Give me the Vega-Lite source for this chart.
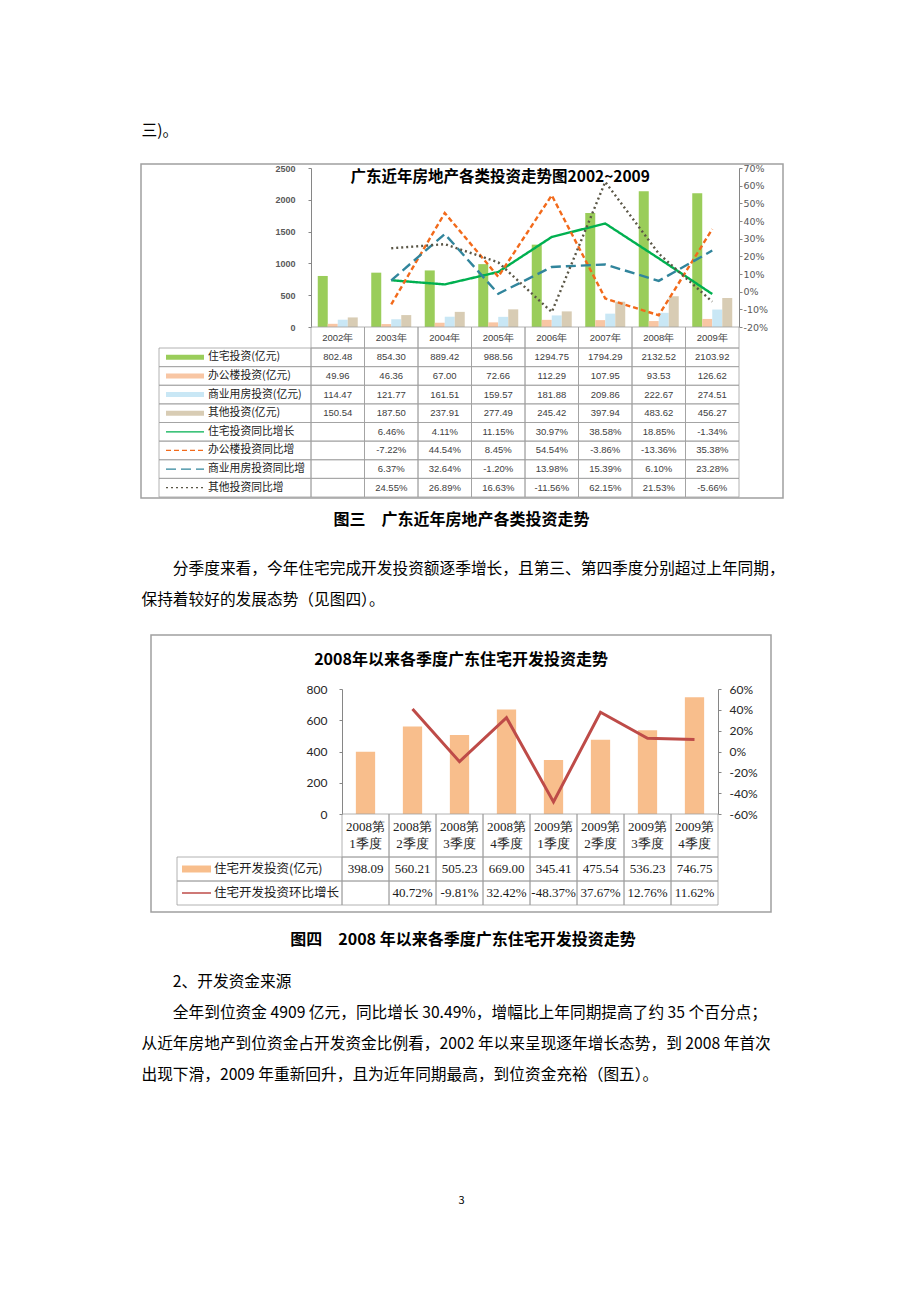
{
  "$schema": "https://vega.github.io/schema/vega-lite/v6.json",
  "padding": {"left": 140, "top": 0, "right": 0, "bottom": 0},
  "background": "white",
  "config": {
    "font": "Noto Sans CJK SC",
    "view": {"stroke": null},
    "locale": {"number": {"decimal": ".", "thousands": ",", "grouping": [3], "currency": ["", ""], "minus": "-"}},
    "axis": {"grid": false, "title": null, "domainColor": "#868686", "tickColor": "#868686"}
  },
  "datasets": {
    "inv1": [
      {"year": "2002年", "series": "住宅投资(亿元)", "value": 802.48},
      {"year": "2003年", "series": "住宅投资(亿元)", "value": 854.30},
      {"year": "2004年", "series": "住宅投资(亿元)", "value": 889.42},
      {"year": "2005年", "series": "住宅投资(亿元)", "value": 988.56},
      {"year": "2006年", "series": "住宅投资(亿元)", "value": 1294.75},
      {"year": "2007年", "series": "住宅投资(亿元)", "value": 1794.29},
      {"year": "2008年", "series": "住宅投资(亿元)", "value": 2132.52},
      {"year": "2009年", "series": "住宅投资(亿元)", "value": 2103.92},
      {"year": "2002年", "series": "办公楼投资(亿元)", "value": 49.96},
      {"year": "2003年", "series": "办公楼投资(亿元)", "value": 46.36},
      {"year": "2004年", "series": "办公楼投资(亿元)", "value": 67.00},
      {"year": "2005年", "series": "办公楼投资(亿元)", "value": 72.66},
      {"year": "2006年", "series": "办公楼投资(亿元)", "value": 112.29},
      {"year": "2007年", "series": "办公楼投资(亿元)", "value": 107.95},
      {"year": "2008年", "series": "办公楼投资(亿元)", "value": 93.53},
      {"year": "2009年", "series": "办公楼投资(亿元)", "value": 126.62},
      {"year": "2002年", "series": "商业用房投资(亿元)", "value": 114.47},
      {"year": "2003年", "series": "商业用房投资(亿元)", "value": 121.77},
      {"year": "2004年", "series": "商业用房投资(亿元)", "value": 161.51},
      {"year": "2005年", "series": "商业用房投资(亿元)", "value": 159.57},
      {"year": "2006年", "series": "商业用房投资(亿元)", "value": 181.88},
      {"year": "2007年", "series": "商业用房投资(亿元)", "value": 209.86},
      {"year": "2008年", "series": "商业用房投资(亿元)", "value": 222.67},
      {"year": "2009年", "series": "商业用房投资(亿元)", "value": 274.51},
      {"year": "2002年", "series": "其他投资(亿元)", "value": 150.54},
      {"year": "2003年", "series": "其他投资(亿元)", "value": 187.50},
      {"year": "2004年", "series": "其他投资(亿元)", "value": 237.91},
      {"year": "2005年", "series": "其他投资(亿元)", "value": 277.49},
      {"year": "2006年", "series": "其他投资(亿元)", "value": 245.42},
      {"year": "2007年", "series": "其他投资(亿元)", "value": 397.94},
      {"year": "2008年", "series": "其他投资(亿元)", "value": 483.62},
      {"year": "2009年", "series": "其他投资(亿元)", "value": 456.27}
    ],
    "gr1": [
      {"year": "2002年", "series": "住宅投资同比增长", "pct": null},
      {"year": "2003年", "series": "住宅投资同比增长", "pct": 0.0646},
      {"year": "2004年", "series": "住宅投资同比增长", "pct": 0.0411},
      {"year": "2005年", "series": "住宅投资同比增长", "pct": 0.1115},
      {"year": "2006年", "series": "住宅投资同比增长", "pct": 0.3097},
      {"year": "2007年", "series": "住宅投资同比增长", "pct": 0.3858},
      {"year": "2008年", "series": "住宅投资同比增长", "pct": 0.1885},
      {"year": "2009年", "series": "住宅投资同比增长", "pct": -0.0134},
      {"year": "2002年", "series": "办公楼投资同比增", "pct": null},
      {"year": "2003年", "series": "办公楼投资同比增", "pct": -0.0722},
      {"year": "2004年", "series": "办公楼投资同比增", "pct": 0.4454},
      {"year": "2005年", "series": "办公楼投资同比增", "pct": 0.0845},
      {"year": "2006年", "series": "办公楼投资同比增", "pct": 0.5454},
      {"year": "2007年", "series": "办公楼投资同比增", "pct": -0.0386},
      {"year": "2008年", "series": "办公楼投资同比增", "pct": -0.1336},
      {"year": "2009年", "series": "办公楼投资同比增", "pct": 0.3538},
      {"year": "2002年", "series": "商业用房投资同比增", "pct": null},
      {"year": "2003年", "series": "商业用房投资同比增", "pct": 0.0637},
      {"year": "2004年", "series": "商业用房投资同比增", "pct": 0.3264},
      {"year": "2005年", "series": "商业用房投资同比增", "pct": -0.0120},
      {"year": "2006年", "series": "商业用房投资同比增", "pct": 0.1398},
      {"year": "2007年", "series": "商业用房投资同比增", "pct": 0.1539},
      {"year": "2008年", "series": "商业用房投资同比增", "pct": 0.0610},
      {"year": "2009年", "series": "商业用房投资同比增", "pct": 0.2328},
      {"year": "2002年", "series": "其他投资同比增", "pct": null},
      {"year": "2003年", "series": "其他投资同比增", "pct": 0.2455},
      {"year": "2004年", "series": "其他投资同比增", "pct": 0.2689},
      {"year": "2005年", "series": "其他投资同比增", "pct": 0.1663},
      {"year": "2006年", "series": "其他投资同比增", "pct": -0.1156},
      {"year": "2007年", "series": "其他投资同比增", "pct": 0.6215},
      {"year": "2008年", "series": "其他投资同比增", "pct": 0.2153},
      {"year": "2009年", "series": "其他投资同比增", "pct": -0.0566}
    ],
    "leg1": [
      {"series": "住宅投资(亿元)", "kind": "bar"},
      {"series": "办公楼投资(亿元)", "kind": "bar"},
      {"series": "商业用房投资(亿元)", "kind": "bar"},
      {"series": "其他投资(亿元)", "kind": "bar"},
      {"series": "住宅投资同比增长", "kind": "line"},
      {"series": "办公楼投资同比增", "kind": "line"},
      {"series": "商业用房投资同比增", "kind": "line"},
      {"series": "其他投资同比增", "kind": "line"}
    ],
    "q": [
      {"quarter": "2008第\n1季度", "inv": 398.09, "qoq": null},
      {"quarter": "2008第\n2季度", "inv": 560.21, "qoq": 0.4072},
      {"quarter": "2008第\n3季度", "inv": 505.23, "qoq": -0.0981},
      {"quarter": "2008第\n4季度", "inv": 669.00, "qoq": 0.3242},
      {"quarter": "2009第\n1季度", "inv": 345.41, "qoq": -0.4837},
      {"quarter": "2009第\n2季度", "inv": 475.54, "qoq": 0.3767},
      {"quarter": "2009第\n3季度", "inv": 536.23, "qoq": 0.1276},
      {"quarter": "2009第\n4季度", "inv": 746.75, "qoq": 0.1162}
    ],
    "leg2": [
      {"row": "住宅开发投资(亿元)", "kind": "bar"},
      {"row": "住宅开发投资环比增长", "kind": "line"}
    ]
  },
  "vconcat": [
    {"width": 1, "height": 115, "data": {"values": []}, "mark": "point"},
    {"width": 1, "height": 31, "data": {"values": [{"text": "三)。"}]},
     "mark": {"type": "text", "align": "left", "baseline": "middle", "fontSize": 15.7, "color": "#000"},
     "encoding": {"text": {"field": "text"}}},
    {"width": 1, "height": 16, "data": {"values": []}, "mark": "point"},
    {
      "width": 642, "height": 334,
      "view": {"stroke": "#A0A0A0", "strokeWidth": 1.5},
      "layer": [
        {"data": {"values": [{"t": "广东近年房地产各类投资走势图2002~2009"}]},
         "mark": {"type": "text", "baseline": "middle", "dx": 2, "fontSize": 15.5, "fontWeight": "bold", "color": "#000"},
         "encoding": {
           "x": {"datum": "2005年", "type": "nominal", "axis": null, "scale": {"domain": ["2002年", "2003年", "2004年", "2005年", "2006年", "2007年", "2008年", "2009年"], "paddingInner": 0, "paddingOuter": 0, "range": [170, 598]}},
           "y": {"datum": "title", "type": "nominal", "axis": null, "scale": {"domain": ["title"], "paddingInner": 0, "paddingOuter": 0, "range": [4, 22]}},
           "text": {"field": "t"}}},
        {"data": {"name": "inv1"},
         "mark": {"type": "bar"},
         "encoding": {
           "x": {"field": "year", "type": "nominal", "axis": null, "scale": {"domain": ["2002年", "2003年", "2004年", "2005年", "2006年", "2007年", "2008年", "2009年"], "paddingInner": 0, "paddingOuter": 0, "range": [170, 598]}},
           "xOffset": {"field": "series", "type": "nominal", "scale": {"domain": ["住宅投资(亿元)", "办公楼投资(亿元)", "商业用房投资(亿元)", "其他投资(亿元)"], "paddingInner": 0, "paddingOuter": 0.675}},
           "y": {"field": "value", "type": "quantitative", "scale": {"domain": [0, 2500], "nice": false, "range": [163, 4]},
                 "axis": {"orient": "left", "offset": -170, "format": "d", "values": [0, 500, 1000, 1500, 2000, 2500], "tickSize": 3, "labelPadding": 13, "labelFont": "Liberation Sans", "labelFontSize": 9, "labelFontWeight": "bold", "labelColor": "#595959"}},
           "color": {"field": "series", "type": "nominal", "legend": null,
                     "scale": {"domain": ["住宅投资(亿元)", "办公楼投资(亿元)", "商业用房投资(亿元)", "其他投资(亿元)", "住宅投资同比增长", "办公楼投资同比增", "商业用房投资同比增", "其他投资同比增"],
                               "range": ["#9ACD5A", "#F8C6A4", "#C9E7F5", "#D8CCB4", "#00B050", "#F26A1B", "#31859C", "#5A5646"]}}}},
        {"data": {"name": "gr1"},
         "mark": {"type": "line", "strokeWidth": 2.4},
         "encoding": {
           "x": {"field": "year", "type": "nominal", "axis": null, "scale": {"domain": ["2002年", "2003年", "2004年", "2005年", "2006年", "2007年", "2008年", "2009年"], "paddingInner": 0, "paddingOuter": 0, "range": [170, 598]}},
           "y": {"field": "pct", "type": "quantitative", "scale": {"domain": [-0.2, 0.7], "nice": false, "zero": false, "range": [163, 4]},
                 "axis": {"orient": "right", "offset": -44, "format": ".0%", "values": [-0.2, -0.1, 0, 0.1, 0.2, 0.3, 0.4, 0.5, 0.6, 0.7], "tickSize": 3, "labelPadding": 1, "labelFont": "DejaVu Sans", "labelFontSize": 9.5, "labelColor": "#595959"}},
           "color": {"field": "series", "type": "nominal", "legend": null},
           "strokeDash": {"field": "series", "type": "nominal", "legend": null,
                          "scale": {"domain": ["住宅投资同比增长", "办公楼投资同比增", "商业用房投资同比增", "其他投资同比增"], "range": [[1, 0], [5, 3], [10, 5], [2, 3]]}}}},
        {"data": {"name": "inv1"},
         "transform": [{"filter": "datum.series === '住宅投资(亿元)'"}],
         "mark": {"type": "rect", "filled": false, "stroke": "#A0A0A0", "strokeWidth": 0.8},
         "encoding": {
           "x": {"field": "year", "type": "nominal", "axis": null, "scale": {"domain": ["2002年", "2003年", "2004年", "2005年", "2006年", "2007年", "2008年", "2009年"], "paddingInner": 0, "paddingOuter": 0, "range": [170, 598]}},
           "y": {"datum": "hdr", "type": "nominal", "axis": null, "scale": {"domain": ["hdr"], "paddingInner": 0, "paddingOuter": 0, "range": [163, 184]}}}},
        {"data": {"name": "inv1"},
         "transform": [{"filter": "datum.series === '住宅投资(亿元)'"}],
         "mark": {"type": "text", "font": "Liberation Sans", "fontSize": 9.5, "color": "#404040"},
         "encoding": {
           "x": {"field": "year", "type": "nominal", "axis": null, "scale": {"domain": ["2002年", "2003年", "2004年", "2005年", "2006年", "2007年", "2008年", "2009年"], "paddingInner": 0, "paddingOuter": 0, "range": [170, 598]}},
           "y": {"datum": "hdr", "type": "nominal", "axis": null, "scale": {"domain": ["hdr"], "paddingInner": 0, "paddingOuter": 0, "range": [163, 184]}},
           "text": {"field": "year"}}},
        {"data": {"name": "inv1"},
         "mark": {"type": "rect", "filled": false, "stroke": "#A0A0A0", "strokeWidth": 0.8},
         "encoding": {
           "x": {"field": "year", "type": "nominal", "axis": null, "scale": {"domain": ["2002年", "2003年", "2004年", "2005年", "2006年", "2007年", "2008年", "2009年"], "paddingInner": 0, "paddingOuter": 0, "range": [170, 598]}},
           "y": {"field": "series", "type": "nominal", "axis": null, "scale": {"domain": ["住宅投资(亿元)", "办公楼投资(亿元)", "商业用房投资(亿元)", "其他投资(亿元)", "住宅投资同比增长", "办公楼投资同比增", "商业用房投资同比增", "其他投资同比增"], "paddingInner": 0, "paddingOuter": 0, "range": [184, 333]}}}},
        {"data": {"name": "gr1"},
         "mark": {"type": "rect", "filled": false, "stroke": "#A0A0A0", "strokeWidth": 0.8},
         "encoding": {
           "x": {"field": "year", "type": "nominal", "axis": null, "scale": {"domain": ["2002年", "2003年", "2004年", "2005年", "2006年", "2007年", "2008年", "2009年"], "paddingInner": 0, "paddingOuter": 0, "range": [170, 598]}},
           "y": {"field": "series", "type": "nominal", "axis": null, "scale": {"domain": ["住宅投资(亿元)", "办公楼投资(亿元)", "商业用房投资(亿元)", "其他投资(亿元)", "住宅投资同比增长", "办公楼投资同比增", "商业用房投资同比增", "其他投资同比增"], "paddingInner": 0, "paddingOuter": 0, "range": [184, 333]}}}},
        {"data": {"name": "inv1"},
         "mark": {"type": "text", "font": "Liberation Sans", "fontSize": 9.5, "color": "#404040"},
         "encoding": {
           "x": {"field": "year", "type": "nominal", "axis": null, "scale": {"domain": ["2002年", "2003年", "2004年", "2005年", "2006年", "2007年", "2008年", "2009年"], "paddingInner": 0, "paddingOuter": 0, "range": [170, 598]}},
           "y": {"field": "series", "type": "nominal", "axis": null, "scale": {"domain": ["住宅投资(亿元)", "办公楼投资(亿元)", "商业用房投资(亿元)", "其他投资(亿元)", "住宅投资同比增长", "办公楼投资同比增", "商业用房投资同比增", "其他投资同比增"], "paddingInner": 0, "paddingOuter": 0, "range": [184, 333]}},
           "text": {"field": "value", "type": "quantitative", "format": ".2f"}}},
        {"data": {"name": "gr1"},
         "transform": [{"filter": "datum.pct != null"}],
         "mark": {"type": "text", "font": "Liberation Sans", "fontSize": 9.5, "color": "#404040"},
         "encoding": {
           "x": {"field": "year", "type": "nominal", "axis": null, "scale": {"domain": ["2002年", "2003年", "2004年", "2005年", "2006年", "2007年", "2008年", "2009年"], "paddingInner": 0, "paddingOuter": 0, "range": [170, 598]}},
           "y": {"field": "series", "type": "nominal", "axis": null, "scale": {"domain": ["住宅投资(亿元)", "办公楼投资(亿元)", "商业用房投资(亿元)", "其他投资(亿元)", "住宅投资同比增长", "办公楼投资同比增", "商业用房投资同比增", "其他投资同比增"], "paddingInner": 0, "paddingOuter": 0, "range": [184, 333]}},
           "text": {"field": "pct", "type": "quantitative", "format": ".2%"}}},
        {"data": {"name": "leg1"},
         "mark": {"type": "rect", "filled": false, "stroke": "#A0A0A0", "strokeWidth": 0.8},
         "encoding": {
           "x": {"datum": "legend", "type": "nominal", "axis": null, "scale": {"domain": ["legend"], "paddingInner": 0, "paddingOuter": 0, "range": [18, 170]}},
           "y": {"field": "series", "type": "nominal", "axis": null, "scale": {"domain": ["住宅投资(亿元)", "办公楼投资(亿元)", "商业用房投资(亿元)", "其他投资(亿元)", "住宅投资同比增长", "办公楼投资同比增", "商业用房投资同比增", "其他投资同比增"], "paddingInner": 0, "paddingOuter": 0, "range": [184, 333]}}}},
        {"data": {"name": "leg1"},
         "transform": [{"filter": "datum.kind === 'bar'"}],
         "mark": {"type": "rule", "strokeWidth": 5},
         "encoding": {
           "x": {"datum": "s", "type": "nominal", "axis": null, "scale": {"type": "point", "domain": ["s", "e"], "padding": 0, "range": [25, 63]}},
           "x2": {"datum": "e"},
           "y": {"field": "series", "type": "nominal", "axis": null, "scale": {"domain": ["住宅投资(亿元)", "办公楼投资(亿元)", "商业用房投资(亿元)", "其他投资(亿元)", "住宅投资同比增长", "办公楼投资同比增", "商业用房投资同比增", "其他投资同比增"], "paddingInner": 0, "paddingOuter": 0, "range": [184, 333]}},
           "color": {"field": "series", "type": "nominal", "legend": null}}},
        {"data": {"name": "leg1"},
         "transform": [{"filter": "datum.kind === 'line'"}],
         "mark": {"type": "rule", "strokeWidth": 1.3},
         "encoding": {
           "x": {"datum": "s", "type": "nominal", "axis": null, "scale": {"type": "point", "domain": ["s", "e"], "padding": 0, "range": [25, 63]}},
           "x2": {"datum": "e"},
           "y": {"field": "series", "type": "nominal", "axis": null, "scale": {"domain": ["住宅投资(亿元)", "办公楼投资(亿元)", "商业用房投资(亿元)", "其他投资(亿元)", "住宅投资同比增长", "办公楼投资同比增", "商业用房投资同比增", "其他投资同比增"], "paddingInner": 0, "paddingOuter": 0, "range": [184, 333]}},
           "color": {"field": "series", "type": "nominal", "legend": null},
           "strokeDash": {"field": "series", "type": "nominal", "legend": null}}},
        {"data": {"name": "leg1"},
         "mark": {"type": "text", "align": "left", "dx": 4, "fontSize": 10.8, "color": "#222"},
         "encoding": {
           "x": {"datum": "e", "type": "nominal", "axis": null, "scale": {"type": "point", "domain": ["s", "e"], "padding": 0, "range": [25, 63]}},
           "y": {"field": "series", "type": "nominal", "axis": null, "scale": {"domain": ["住宅投资(亿元)", "办公楼投资(亿元)", "商业用房投资(亿元)", "其他投资(亿元)", "住宅投资同比增长", "办公楼投资同比增", "商业用房投资同比增", "其他投资同比增"], "paddingInner": 0, "paddingOuter": 0, "range": [184, 333]}},
           "text": {"field": "series"}}}
      ],
      "resolve": {"scale": {"x": "independent", "y": "independent"}, "axis": {"x": "independent", "y": "independent"}}
    },
    {"width": 1, "height": 5, "data": {"values": []}, "mark": "point"},
    {"width": 641, "height": 31, "data": {"values": [{"text": "图三　广东近年房地产各类投资走势"}]},
     "mark": {"type": "text", "baseline": "middle", "fontSize": 16, "fontWeight": "bold", "color": "#000"},
     "encoding": {"text": {"field": "text"}}},
    {"width": 1, "height": 18, "data": {"values": []}, "mark": "point"},
    {"width": 1, "height": 62,
     "data": {"values": [
       {"line": 1, "text": "\u200b　　分季度来看，今年住宅完成开发投资额逐季增长，且第三、第四季度分别超过上年同期，"},
       {"line": 2, "text": "保持着较好的发展态势（见图四）。"}
     ]},
     "mark": {"type": "text", "align": "left", "baseline": "middle", "fontSize": 15.7, "color": "#000"},
     "encoding": {"y": {"field": "line", "type": "ordinal", "axis": null, "scale": {"paddingInner": 0, "paddingOuter": 0}}, "text": {"field": "text"}}},
    {"width": 1, "height": 19, "data": {"values": []}, "mark": "point"},
    {
      "hconcat": [
        {"width": 10, "height": 1, "data": {"values": []}, "mark": "point"},
        {
          "width": 620, "height": 277,
          "view": {"stroke": "#A0A0A0", "strokeWidth": 1.5},
          "layer": [
            {"data": {"values": [{"t": "2008年以来各季度广东住宅开发投资走势"}]},
             "mark": {"type": "text", "baseline": "middle", "fontSize": 16, "fontWeight": "bold", "color": "#000"},
             "encoding": {
               "y": {"datum": "title", "type": "nominal", "axis": null, "scale": {"domain": ["title"], "paddingInner": 0, "paddingOuter": 0, "range": [12, 38]}},
               "text": {"field": "t"}}},
            {"data": {"name": "q"},
             "mark": {"type": "bar", "color": "#F8BE8C", "width": {"band": 0.41}},
             "encoding": {
               "x": {"field": "quarter", "type": "nominal", "axis": null, "scale": {"domain": ["2008第\n1季度", "2008第\n2季度", "2008第\n3季度", "2008第\n4季度", "2009第\n1季度", "2009第\n2季度", "2009第\n3季度", "2009第\n4季度"], "paddingInner": 0, "paddingOuter": 0, "range": [191, 567]}},
               "y": {"field": "inv", "type": "quantitative", "scale": {"domain": [0, 800], "nice": false, "range": [179, 54]},
                     "axis": {"orient": "left", "offset": -191, "format": "d", "values": [0, 200, 400, 600, 800], "tickSize": 3, "labelPadding": 12, "labelFont": "Lato", "labelFontSize": 12, "labelColor": "#262626"}}}},
            {"data": {"name": "q"},
             "mark": {"type": "line", "color": "#BE4B48", "strokeWidth": 3},
             "encoding": {
               "x": {"field": "quarter", "type": "nominal", "axis": null, "scale": {"domain": ["2008第\n1季度", "2008第\n2季度", "2008第\n3季度", "2008第\n4季度", "2009第\n1季度", "2009第\n2季度", "2009第\n3季度", "2009第\n4季度"], "paddingInner": 0, "paddingOuter": 0, "range": [191, 567]}},
               "y": {"field": "qoq", "type": "quantitative", "scale": {"domain": [-0.6, 0.6], "nice": false, "zero": false, "range": [179, 54]},
                     "axis": {"orient": "right", "offset": -53, "format": ".0%", "values": [-0.6, -0.4, -0.2, 0, 0.2, 0.4, 0.6], "tickSize": 3, "labelPadding": 8, "labelFont": "Lato", "labelFontSize": 12, "labelColor": "#262626"}}}},
            {"data": {"name": "q"},
             "mark": {"type": "rect", "filled": false, "stroke": "#A0A0A0", "strokeWidth": 0.8},
             "encoding": {
               "x": {"field": "quarter", "type": "nominal", "axis": null, "scale": {"domain": ["2008第\n1季度", "2008第\n2季度", "2008第\n3季度", "2008第\n4季度", "2009第\n1季度", "2009第\n2季度", "2009第\n3季度", "2009第\n4季度"], "paddingInner": 0, "paddingOuter": 0, "range": [191, 567]}},
               "y": {"datum": "hdr", "type": "nominal", "axis": null, "scale": {"domain": ["hdr"], "paddingInner": 0, "paddingOuter": 0, "range": [179, 222]}}}},
            {"data": {"name": "q"},
             "mark": {"type": "text", "lineBreak": "\n", "lineHeight": 16.7, "baseline": "middle", "dy": -8.3, "font": "Liberation Serif", "fontSize": 13, "color": "#222"},
             "encoding": {
               "x": {"field": "quarter", "type": "nominal", "axis": null, "scale": {"domain": ["2008第\n1季度", "2008第\n2季度", "2008第\n3季度", "2008第\n4季度", "2009第\n1季度", "2009第\n2季度", "2009第\n3季度", "2009第\n4季度"], "paddingInner": 0, "paddingOuter": 0, "range": [191, 567]}},
               "y": {"datum": "hdr", "type": "nominal", "axis": null, "scale": {"domain": ["hdr"], "paddingInner": 0, "paddingOuter": 0, "range": [179, 222]}},
               "text": {"field": "quarter"}}},
            {"data": {"name": "q"},
             "mark": {"type": "rect", "filled": false, "stroke": "#A0A0A0", "strokeWidth": 0.8},
             "encoding": {
               "x": {"field": "quarter", "type": "nominal", "axis": null, "scale": {"domain": ["2008第\n1季度", "2008第\n2季度", "2008第\n3季度", "2008第\n4季度", "2009第\n1季度", "2009第\n2季度", "2009第\n3季度", "2009第\n4季度"], "paddingInner": 0, "paddingOuter": 0, "range": [191, 567]}},
               "y": {"datum": "住宅开发投资(亿元)", "type": "nominal", "axis": null, "scale": {"domain": ["住宅开发投资(亿元)", "住宅开发投资环比增长"], "paddingInner": 0, "paddingOuter": 0, "range": [222, 270]}}}},
            {"data": {"name": "q"},
             "mark": {"type": "rect", "filled": false, "stroke": "#A0A0A0", "strokeWidth": 0.8},
             "encoding": {
               "x": {"field": "quarter", "type": "nominal", "axis": null, "scale": {"domain": ["2008第\n1季度", "2008第\n2季度", "2008第\n3季度", "2008第\n4季度", "2009第\n1季度", "2009第\n2季度", "2009第\n3季度", "2009第\n4季度"], "paddingInner": 0, "paddingOuter": 0, "range": [191, 567]}},
               "y": {"datum": "住宅开发投资环比增长", "type": "nominal", "axis": null, "scale": {"domain": ["住宅开发投资(亿元)", "住宅开发投资环比增长"], "paddingInner": 0, "paddingOuter": 0, "range": [222, 270]}}}},
            {"data": {"name": "q"},
             "mark": {"type": "text", "font": "Liberation Serif", "fontSize": 13, "color": "#1a1a1a"},
             "encoding": {
               "x": {"field": "quarter", "type": "nominal", "axis": null, "scale": {"domain": ["2008第\n1季度", "2008第\n2季度", "2008第\n3季度", "2008第\n4季度", "2009第\n1季度", "2009第\n2季度", "2009第\n3季度", "2009第\n4季度"], "paddingInner": 0, "paddingOuter": 0, "range": [191, 567]}},
               "y": {"datum": "住宅开发投资(亿元)", "type": "nominal", "axis": null, "scale": {"domain": ["住宅开发投资(亿元)", "住宅开发投资环比增长"], "paddingInner": 0, "paddingOuter": 0, "range": [222, 270]}},
               "text": {"field": "inv", "type": "quantitative", "format": ".2f"}}},
            {"data": {"name": "q"},
             "transform": [{"filter": "datum.qoq != null"}],
             "mark": {"type": "text", "font": "Liberation Serif", "fontSize": 13, "color": "#1a1a1a"},
             "encoding": {
               "x": {"field": "quarter", "type": "nominal", "axis": null, "scale": {"domain": ["2008第\n1季度", "2008第\n2季度", "2008第\n3季度", "2008第\n4季度", "2009第\n1季度", "2009第\n2季度", "2009第\n3季度", "2009第\n4季度"], "paddingInner": 0, "paddingOuter": 0, "range": [191, 567]}},
               "y": {"datum": "住宅开发投资环比增长", "type": "nominal", "axis": null, "scale": {"domain": ["住宅开发投资(亿元)", "住宅开发投资环比增长"], "paddingInner": 0, "paddingOuter": 0, "range": [222, 270]}},
               "text": {"field": "qoq", "type": "quantitative", "format": ".2%"}}},
            {"data": {"name": "leg2"},
             "mark": {"type": "rect", "filled": false, "stroke": "#A0A0A0", "strokeWidth": 0.8},
             "encoding": {
               "x": {"datum": "legend", "type": "nominal", "axis": null, "scale": {"domain": ["legend"], "paddingInner": 0, "paddingOuter": 0, "range": [26, 191]}},
               "y": {"field": "row", "type": "nominal", "axis": null, "scale": {"domain": ["住宅开发投资(亿元)", "住宅开发投资环比增长"], "paddingInner": 0, "paddingOuter": 0, "range": [222, 270]}}}},
            {"data": {"name": "leg2"},
             "transform": [{"filter": "datum.kind === 'bar'"}],
             "mark": {"type": "rule", "strokeWidth": 7, "color": "#F8BE8C"},
             "encoding": {
               "x": {"datum": "s", "type": "nominal", "axis": null, "scale": {"type": "point", "domain": ["s", "e"], "padding": 0, "range": [31, 60]}},
               "x2": {"datum": "e"},
               "y": {"field": "row", "type": "nominal", "axis": null, "scale": {"domain": ["住宅开发投资(亿元)", "住宅开发投资环比增长"], "paddingInner": 0, "paddingOuter": 0, "range": [222, 270]}}}},
            {"data": {"name": "leg2"},
             "transform": [{"filter": "datum.kind === 'line'"}],
             "mark": {"type": "rule", "strokeWidth": 1.5, "color": "#BE4B48"},
             "encoding": {
               "x": {"datum": "s", "type": "nominal", "axis": null, "scale": {"type": "point", "domain": ["s", "e"], "padding": 0, "range": [31, 60]}},
               "x2": {"datum": "e"},
               "y": {"field": "row", "type": "nominal", "axis": null, "scale": {"domain": ["住宅开发投资(亿元)", "住宅开发投资环比增长"], "paddingInner": 0, "paddingOuter": 0, "range": [222, 270]}}}},
            {"data": {"name": "leg2"},
             "mark": {"type": "text", "align": "left", "dx": 3, "fontSize": 12.5, "color": "#222"},
             "encoding": {
               "x": {"datum": "e", "type": "nominal", "axis": null, "scale": {"type": "point", "domain": ["s", "e"], "padding": 0, "range": [31, 60]}},
               "y": {"field": "row", "type": "nominal", "axis": null, "scale": {"domain": ["住宅开发投资(亿元)", "住宅开发投资环比增长"], "paddingInner": 0, "paddingOuter": 0, "range": [222, 270]}},
               "text": {"field": "row"}}}
          ],
          "resolve": {"scale": {"x": "independent", "y": "independent"}, "axis": {"x": "independent", "y": "independent"}}
        }
      ],
      "spacing": 0, "bounds": "flush"
    },
    {"width": 1, "height": 11, "data": {"values": []}, "mark": "point"},
    {"width": 644, "height": 31, "data": {"values": [{"text": "图四　2008 年以来各季度广东住宅开发投资走势"}]},
     "mark": {"type": "text", "baseline": "middle", "fontSize": 16, "fontWeight": "bold", "color": "#000"},
     "encoding": {"text": {"field": "text"}}},
    {"width": 1, "height": 11, "data": {"values": []}, "mark": "point"},
    {"width": 1, "height": 125,
     "data": {"values": [
       {"line": 1, "text": "\u200b　　2、开发资金来源"},
       {"line": 2, "text": "\u200b　　全年到位资金 4909 亿元，同比增长 30.49%，增幅比上年同期提高了约 35 个百分点；"},
       {"line": 3, "text": "从近年房地产到位资金占开发资金比例看，2002 年以来呈现逐年增长态势，到 2008 年首次"},
       {"line": 4, "text": "出现下滑，2009 年重新回升，且为近年同期最高，到位资金充裕（图五）。"}
     ]},
     "mark": {"type": "text", "align": "left", "baseline": "middle", "fontSize": 15.7, "color": "#000"},
     "encoding": {"y": {"field": "line", "type": "ordinal", "axis": null, "scale": {"paddingInner": 0, "paddingOuter": 0}}, "text": {"field": "text"}}},
    {"width": 1, "height": 95, "data": {"values": []}, "mark": "point"},
    {"width": 641, "height": 30, "data": {"values": [{"text": "3"}]},
     "mark": {"type": "text", "baseline": "middle", "fontSize": 11, "color": "#000"},
     "encoding": {"text": {"field": "text"}}},
    {"width": 1, "height": 87, "data": {"values": []}, "mark": "point"}
  ],
  "spacing": 0,
  "bounds": "full"
}
